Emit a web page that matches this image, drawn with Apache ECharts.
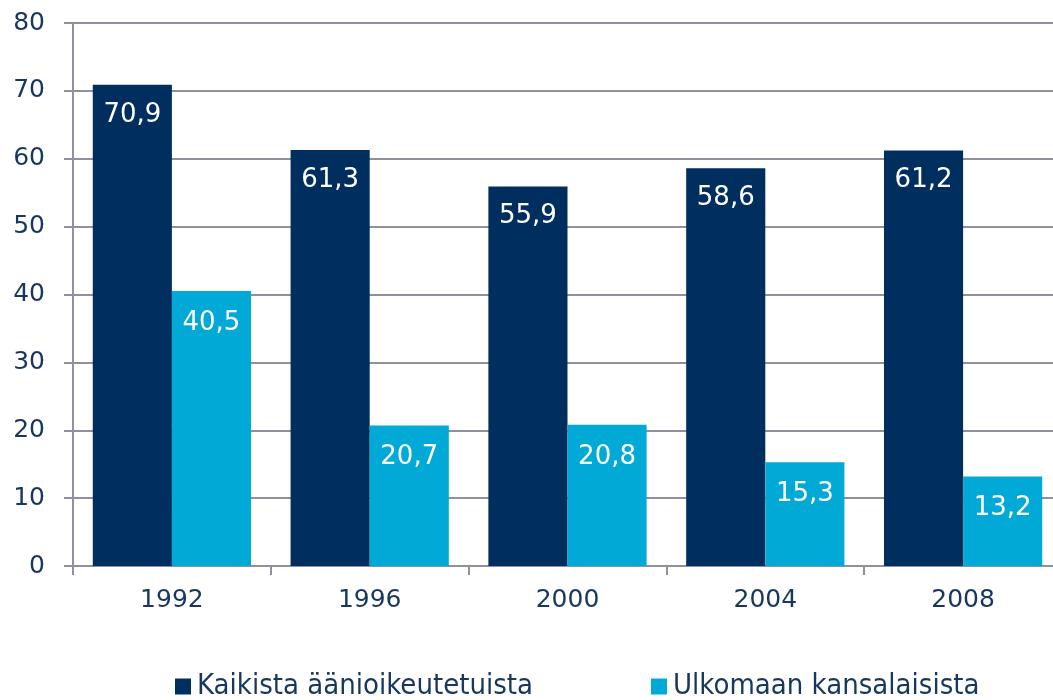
<!DOCTYPE html>
<html>
<head>
<meta charset="utf-8">
<script src="https://cdn.jsdelivr.net/npm/echarts@6/dist/echarts.min.js"></script>
<style>
  html, body { margin: 0; padding: 0; background: #fff; }
  #chart { width: 1053px; height: 700px; }
</style>
</head>
<body>
<div id="chart"></div>
<script>
const years = ['1992', '1996', '2000', '2004', '2008']
const kaikista = [70.9, 61.3, 55.9, 58.6, 61.2]
const ulkomaan = [40.5, 20.7, 20.8, 15.3, 13.2]

const textColor = '#17375e'
const lineColor = '#8e909f'
const font = 'DejaVu Sans'

const chart = echarts.init(document.getElementById('chart'))

const fmt = p => String(p.value).replace('.', ',')

const option = {
  animation: false,
  grid: { left: 73, top: 23, width: 989, height: 543, containLabel: false, outerBoundsMode: 'none' },
  legend: {
    left: 175,
    top: 672,
    padding: 0,
    itemWidth: 16,
    itemHeight: 16,
    itemGap: 118,
    icon: 'rect',
    textStyle: { fontFamily: 'DejaVu Sans Condensed', fontSize: 29, color: textColor, padding: [0, 0, 0, 1] },
    data: ['Kaikista äänioikeutetuista', 'Ulkomaan kansalaisista']
  },
  xAxis: {
    type: 'category',
    data: years,
    axisLine: { lineStyle: { color: lineColor, width: 2 } },
    axisTick: { show: true, length: 9, lineStyle: { color: lineColor, width: 2 } },
    axisLabel: { margin: 22, fontFamily: font, fontSize: 25, color: textColor }
  },
  yAxis: {
    type: 'value',
    min: 0,
    max: 80,
    interval: 10,
    axisLine: { show: true, lineStyle: { color: lineColor, width: 2 } },
    axisTick: { show: true, length: 9, lineStyle: { color: lineColor, width: 2 } },
    axisLabel: { margin: 28, fontFamily: font, fontSize: 25, color: textColor, padding: [4, 0, 0, 0] },
    splitLine: { lineStyle: { color: lineColor, width: 2 } }
  },
  series: [
    {
      name: 'Kaikista äänioikeutetuista',
      type: 'bar',
      data: kaikista,
      barGap: '0%',
      barCategoryGap: '20%',
      itemStyle: { color: '#002e5f' },
      label: {
        show: true, position: 'insideTop', distance: 17,
        fontFamily: font, fontSize: 26, color: '#fff', formatter: fmt
      }
    },
    {
      name: 'Ulkomaan kansalaisista',
      type: 'bar',
      data: ulkomaan,
      itemStyle: { color: '#00a9d6' },
      label: {
        show: true, position: 'insideTop', distance: 19,
        fontFamily: font, fontSize: 26, color: '#fff', formatter: fmt
      }
    }
  ]
}

chart.setOption(option)
</script>
</body>
</html>
